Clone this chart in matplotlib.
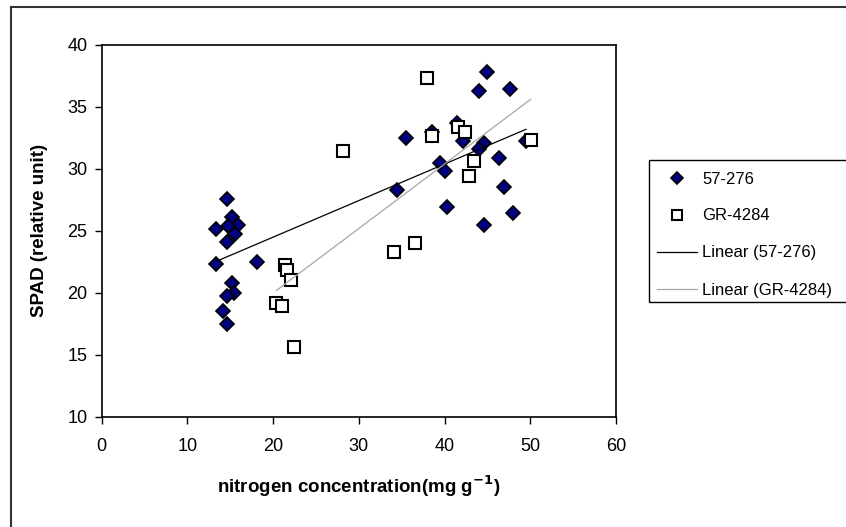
import numpy as np
import matplotlib
matplotlib.use('Agg')
import matplotlib.pyplot as plt
from matplotlib.lines import Line2D
from matplotlib.patches import Rectangle

plt.rcParams['font.family'] = ['Liberation Sans', 'DejaVu Sans']

# 57-276 (filled diamonds)
x_57 = [14.6, 15.2, 15.96, 14.8, 13.4, 15.6, 14.6, 13.4, 18.1, 15.2, 15.4, 14.6, 14.2, 14.6,
        35.5, 34.5, 45.0, 44.0, 47.6, 38.5, 41.5, 42.1, 44.6, 44.0, 49.5, 46.4, 39.5, 40.1,
        46.9, 40.3, 48.0, 44.6]
y_57 = [27.55, 26.1, 25.5, 25.4, 25.1, 24.7, 24.05, 22.3, 22.45, 20.8, 19.95, 19.7, 18.55, 17.45,
        32.5, 28.3, 37.8, 36.3, 36.4, 32.95, 33.7, 32.2, 32.1, 31.6, 32.25, 30.9, 30.5, 29.8,
        28.5, 26.9, 26.4, 25.5]

# GR-4284 (open squares)
x_gr = [21.4, 21.6, 22.06, 20.4, 21.0, 22.45, 28.2, 34.1, 36.6, 38.0, 38.6, 41.6, 42.4,
        50.05, 43.4, 42.8]
y_gr = [22.2, 21.8, 21.0, 19.2, 18.9, 15.6, 31.4, 23.3, 24.0, 37.3, 32.6, 33.4, 33.0,
        32.3, 30.6, 29.4]

x_ticks = [0, 10, 20, 30, 40, 50, 60]
y_ticks = [10, 15, 20, 25, 30, 35, 40]

fig = plt.figure(figsize=(8.46, 5.27), dpi=100)
ax = fig.add_axes([101.5 / 846, 1 - 416.7 / 527, 514.5 / 846, 372 / 527])

# linear trend lines
def trend(xs, ys):
    xs = np.array(xs)
    k, b = np.polyfit(xs, ys, 1)
    xx = np.array([xs.min(), xs.max()])
    return xx, k * xx + b

ax.plot(x_57, y_57, 'D', ms=7.2, mfc='#000080', mec='black', mew=1.2, label='57-276', zorder=3)
ax.plot(x_gr, y_gr, 's', ms=8.5, mfc='white', mec='black', mew=1.5, label='GR-4284', zorder=3)
tx, ty = trend(x_57, y_57)
ax.plot(tx, ty, color='black', lw=0.9, label='Linear (57-276)', zorder=4)
tx, ty = trend(x_gr, y_gr)
ax.plot(tx, ty, color='#a6a6a6', lw=0.9, label='Linear (GR-4284)', zorder=4)

ax.set_xlim(0, 60)
ax.set_ylim(10, 40)
ax.set_xticks(x_ticks)
ax.set_yticks(y_ticks)
ax.tick_params(axis='both', direction='out', length=5, width=1, labelsize=13)
ax.tick_params(axis='x', pad=10)
ax.tick_params(axis='y', pad=5)
for s in ax.spines.values():
    s.set_linewidth(1.2)
    s.set_color('black')

ax.set_xlabel('nitrogen concentration(mg g$^{\\mathbf{-1}}$)', fontsize=13.5, fontweight='bold', va='center')
ax.xaxis.set_label_coords(0.5, (416.7 - 486.7) / 372)
ax.set_ylabel('SPAD (relative unit)', fontsize=13.5, fontweight='bold', va='center')
ax.yaxis.set_label_coords((40 - 101.5) / 514.5, 0.5)

leg = fig.legend(loc='upper left', bbox_to_anchor=(645 / 846, 1 - 160 / 527),
                 fontsize=12, frameon=False, borderpad=0.69, handlelength=2.45,
                 handletextpad=0.3, labelspacing=1.32, numpoints=1, borderaxespad=0,
                 markerscale=0.85)

# legend box, cut off by the right edge like the original
fig.add_artist(Rectangle((649 / 846, 1 - 302 / 527), 0.5, 142 / 527, transform=fig.transFigure,
                         fill=False, edgecolor='black', lw=1.0))

# outer chart border (extends past the right and bottom edges)
fig.add_artist(Line2D([11 / 846, 11 / 846], [-0.1, 1 - 7 / 527], color='#333333', lw=1.5))
fig.add_artist(Line2D([11 / 846, 1.1], [1 - 7 / 527, 1 - 7 / 527], color='#333333', lw=1.5))

fig.savefig('out.png', dpi=100)
